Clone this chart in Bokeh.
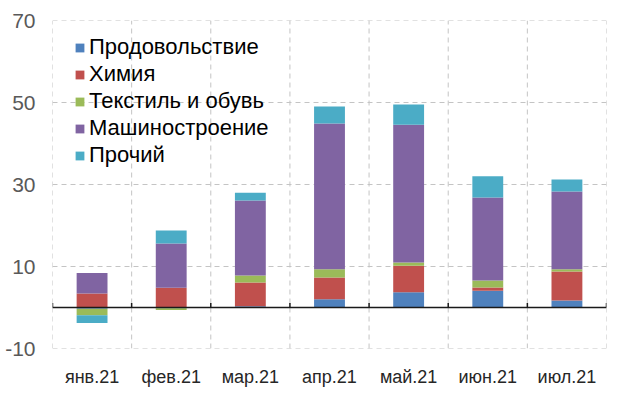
import numpy as np
from bokeh.plotting import figure
from bokeh.models import FixedTicker, Span, Legend, LegendItem, ColumnDataSource
from bokeh.embed import file_html
from bokeh.resources import INLINE

months = ["янв.21", "фев.21", "мар.21", "апр.21", "май.21", "июн.21", "июл.21"]
series = ["Продовольствие", "Химия", "Текстиль и обувь", "Машиностроение", "Прочий"]
prod = [-0.3, -0.2, 0.3, 2.0, 3.7, 4.1, 1.7]
chem = [3.4, 4.8, 5.8, 5.3, 6.5, 0.8, 7.1]
text = [-1.6, -0.4, 1.7, 2.0, 0.8, 1.7, 0.5]
mash = [5.0, 10.8, 18.3, 35.6, 33.6, 20.2, 19.0]
other = [-1.9, 3.2, 1.9, 4.1, 4.9, 5.2, 2.9]
colors = ["#4F81BD", "#C0504D", "#9BBB59", "#8064A2", "#4BACC6"]
yticks = [-10, 10, 30, 50, 70]

FONT = "Liberation Sans"
n = len(months)
x = np.arange(n) + 0.5
ymin, ymax = yticks[0], yticks[-1]

p = figure(width=620, height=398, x_range=(0, n), y_range=(ymin, ymax),
           output_backend="svg", toolbar_location=None,
           min_border_left=52, min_border_right=14, min_border_top=20, min_border_bottom=50)
p.outline_line_color = None
p.background_fill_color = "white"
p.xgrid.visible = False
p.ygrid.visible = False

# dashed grid drawn as segments
GRID = "#C4C4C4"
yt = np.array(yticks, dtype=float)
p.segment(x0=np.zeros(len(yt)), x1=np.full(len(yt), n), y0=yt, y1=yt,
          line_color=GRID, line_width=1, line_dash="5 4")
bx = np.arange(n + 1, dtype=float)
p.segment(x0=bx, x1=bx, y0=np.full(n + 1, ymin), y1=np.full(n + 1, ymax),
          line_color=GRID, line_width=1, line_dash="5 4")

# axes
p.yaxis.ticker = FixedTicker(ticks=yticks)
p.yaxis.major_label_overrides = {t: str(t) for t in yticks}
p.yaxis.axis_line_color = None
p.yaxis.major_tick_line_color = None
p.yaxis.minor_tick_line_color = None
p.yaxis.major_tick_out = 0
p.yaxis.major_tick_in = 0
p.yaxis.minor_tick_out = 0
p.yaxis.major_label_text_font = FONT
p.yaxis.major_label_text_font_size = "21px"
p.yaxis.major_label_text_color = "#595959"
p.yaxis.major_label_standoff = 17

p.xaxis.ticker = FixedTicker(ticks=list(x))
p.xaxis.major_label_overrides = {float(xx): m for xx, m in zip(x, months)}
p.xaxis.axis_line_color = None
p.xaxis.major_tick_line_color = None
p.xaxis.minor_tick_line_color = None
p.xaxis.major_tick_out = 0
p.xaxis.major_tick_in = 0
p.xaxis.minor_tick_out = 0
p.xaxis.major_label_text_font = FONT
p.xaxis.major_label_text_font_size = "18px"
p.xaxis.major_label_text_color = "#262626"
p.xaxis.major_label_standoff = 18

# stacked bars, positives up, negatives down
data = np.array([prod, chem, text, mash, other])
pos_base = np.zeros(n)
neg_base = np.zeros(n)
renderers = []
for i, name in enumerate(series):
    v = data[i]
    bottom = np.where(v >= 0, pos_base, neg_base)
    top = bottom + v
    pos_base = np.where(v >= 0, top, pos_base)
    neg_base = np.where(v < 0, top, neg_base)
    src = ColumnDataSource(dict(x=x, top=top, bottom=bottom))
    r = p.vbar(x="x", top="top", bottom="bottom", width=0.39, source=src,
               fill_color=colors[i], line_color=None)
    renderers.append((name, r))

# zero axis line with tick marks at category boundaries
p.add_layout(Span(location=0, dimension="width", line_color="#1a1a1a", line_width=1.5))
p.segment(x0=bx, x1=bx, y0=np.zeros(n + 1), y1=np.full(n + 1, 1.1),
          line_color="#1a1a1a", line_width=1.5)

legend = Legend(items=[LegendItem(label=nm, renderers=[r]) for nm, r in renderers],
                location=(22, 180))
legend.background_fill_alpha = 0
legend.border_line_color = None
legend.label_text_font = FONT
legend.label_text_font_size = "22px"
legend.label_text_color = "#000000"
legend.glyph_width = 11
legend.glyph_height = 11
legend.label_height = 24
legend.spacing = 1
legend.label_standoff = 4
legend.padding = 0
legend.margin = 0
p.add_layout(legend)

open("out.html", "w").write(file_html(p, INLINE))
